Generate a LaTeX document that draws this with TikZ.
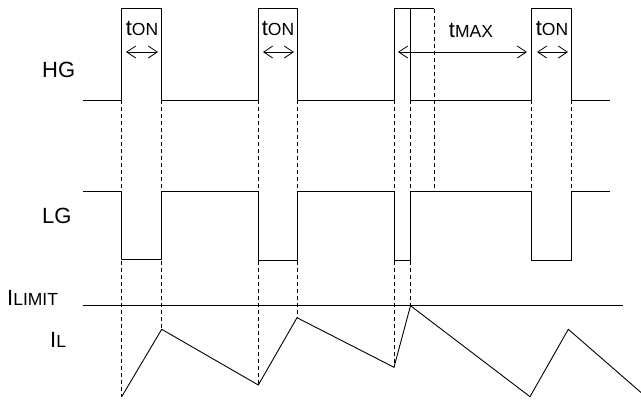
\documentclass[tikz,border=0pt]{standalone}
\usepackage{fontspec}
\setmainfont{Liberation Sans}
\usetikzlibrary{arrows.meta, positioning}
\tikzset{
    wave/.style={line width=0.9pt}, % solid waveforms
    guide/.style={line width=0.8pt, dash pattern=on 4pt off 3pt}, % dashed timing guides
    span/.style={line width=0.8pt, {Straight Barb[length=9pt,width=12pt]}-{Straight Barb[length=9pt,width=12pt]}}, % time spans
    sig/.style={font=\fontsize{22}{26}\selectfont, inner sep=0pt, anchor=base west}, % signal names
    tlabel/.style={font=\fontsize{22}{26}\selectfont, inner sep=0pt, anchor=base}, % time labels
}
\newcommand{\lowtag}[1]{{\fontsize{17.5}{21}\selectfont #1}}

\begin{document}
\begin{tikzpicture}[x=1pt,y=-1pt]
    \useasboundingbox (0,0) rectangle (641,400);
    \coordinate (hgbase) at (0,100);
    \coordinate (lghigh) at (0,191);
    % signal names
    \node[sig] (hg) at (42,77) {HG};
    \node[sig] (lg) at (42,223) {LG};
    \node[sig] (ilim) at (7,305) {I\lowtag{LIMIT}};
    \node[sig] (il) at (50,347) {I\lowtag{L}};
    % inductor current corners
    \coordinate (v1) at (121.7,396.7);
    \coordinate (v2) at (161.7,329.3);
    \coordinate (v3) at (258.3,385);
    \coordinate (v4) at (297,317.7);
    \coordinate (v5) at (394,367.3);
    \coordinate (v6) at (410.5,305.7);
    \coordinate (v7) at (530,396.7);
    \coordinate (v8) at (568.3,329.3);
    \coordinate (v9) at (641,392.5);
    % max on time end and last pulse
    \coordinate (m3) at (434,8.5);
    \coordinate (a4) at (531.7,100);
    \coordinate (b4) at (571.7,100);
    % dashed guides
    \foreach \v in {v1,v2,v3,v4,v5,v6}
        \draw[guide] (\v |- hgbase) -- (\v);
    \draw[guide] (m3) -- (m3 |- lghigh);
    \draw[guide] (a4) -- (a4 |- lghigh);
    \draw[guide] (b4) -- (b4 |- lghigh);
    % HG
    \draw[wave] (83,100) -- (121.7,100) -- (121.7,8.5) -- (161.7,8.5) -- (161.7,100)
        -- (258.3,100) -- (258.3,8.5) -- (297,8.5) -- (297,100)
        -- (394,100) -- (394,8.5) -- (m3);
    \draw[wave] (410.5,8.5) -- (410.5,100) -- (a4) -- (531.7,8.5) -- (571.7,8.5) -- (b4) -- (610,100);
    % LG
    \draw[wave] (83,191) -- (121.7,191) -- (121.7,259.5) -- (161.7,259.5) -- (161.7,191)
        -- (258.3,191) -- (258.3,260) -- (297,260) -- (297,191)
        -- (394,191) -- (394,260) -- (410.5,260) -- (410.5,191)
        -- (531.7,191) -- (531.7,260) -- (571.7,260) -- (571.7,191) -- (610,191);
    % current limit and inductor current
    \draw[wave] (83,305.7) -- (622.7,305.7);
    \draw[wave] (v1) -- (v2) -- (v3) -- (v4) -- (v5) -- (v6) -- (v7) -- (v8) -- (v9);
    % time spans
    \node[tlabel] (ton1) at (142,35) {t\lowtag{ON}};
    \node[tlabel] (ton2) at (278,35) {t\lowtag{ON}};
    \node[tlabel] (tmax) at (471,37) {t\lowtag{MAX}};
    \node[tlabel] (ton4) at (552,35) {t\lowtag{ON}};
    \draw[span] (126,52) -- (158,52);
    \draw[span] (263,52) -- (294,52);
    \draw[span] (398,52) -- (527,52);
    \draw[span] (537,52) -- (568,52);
\end{tikzpicture}
\end{document}
